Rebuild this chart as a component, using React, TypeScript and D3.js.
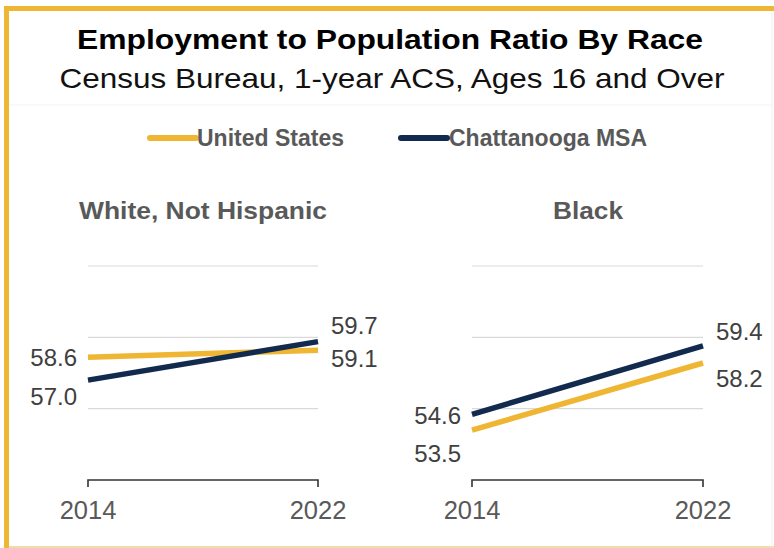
import React from "react";
import * as d3 from "d3";

const years = ["2014", "2022"];
const seriesNames = ["United States", "Chattanooga MSA"];
const panelTitles = ["White, Not Hispanic", "Black"];
const whiteUS = [58.6, 59.1];
const whiteMSA = [57.0, 59.7];
const blackUS = [53.5, 58.2];
const blackMSA = [54.6, 59.4];
const gridValues = [55, 60, 65];

const GOLD = "#EFB633";
const NAVY = "#112A4E";
const FONT = "'Liberation Sans', Arial, sans-serif";

// layout only: label offsets (px) relative to data point for [US, MSA] at [start, end]
const labelOffsets = [
  { us: [0, 8], msa: [16, -16] },
  { us: [24, 16], msa: [1, -14] },
];

export default function App() {
  const W = 774;
  const H = 548;
  const y = d3.scaleLinear().domain([50, 65]).range([480, 266]);
  const panels = [
    { title: panelTitles[0], us: whiteUS, msa: whiteMSA, x0: 88, x1: 318, titleX: 203, titleLen: 248 },
    { title: panelTitles[1], us: blackUS, msa: blackMSA, x0: 472, x1: 703, titleX: 588, titleLen: 70 },
  ];
  const fmt = d3.format(".1f");

  return (
    <svg width={W} height={H} style={{ position: "absolute", left: 0, top: 0, background: "#fff" }}>
      {/* frame */}
      <rect x={0} y={0} width={W} height={H} fill="#fff" />
      <line x1={9} x2={W} y1={547} y2={547} stroke="#EAD08F" strokeWidth={1.5} />
      <line x1={772} x2={772} y1={11} y2={547} stroke="#EEEEEE" strokeWidth={1} />
      <rect x={4} y={6} width={W - 4} height={5} fill={GOLD} />
      <rect x={4} y={6} width={5} height={H - 6} fill={GOLD} />
      <line x1={9} x2={772} y1={105} y2={105} stroke="#F3F3F3" strokeWidth={1} />

      {/* titles */}
      <text x={390} y={49} textAnchor="middle" fontFamily={FONT} fontWeight="bold" fontSize={27}
        fill="#000" textLength={626} lengthAdjust="spacingAndGlyphs">
        Employment to Population Ratio By Race
      </text>
      <text x={392} y={88} textAnchor="middle" fontFamily={FONT} fontSize={27.5}
        fill="#111" textLength={665} lengthAdjust="spacingAndGlyphs">
        Census Bureau, 1-year ACS, Ages 16 and Over
      </text>

      {/* legend */}
      {[
        { c: GOLD, lx: 150, tx: 197, name: seriesNames[0] },
        { c: NAVY, lx: 401, tx: 449, name: seriesNames[1] },
      ].map((l, i) => (
        <g key={i}>
          <line x1={l.lx} x2={l.lx + 46} y1={138} y2={138} stroke={l.c} strokeWidth={6} strokeLinecap="round" />
          <text x={l.tx} y={146} fontFamily={FONT} fontWeight="bold" fontSize={23} fill="#595959">
            {l.name}
          </text>
        </g>
      ))}

      {panels.map((p, pi) => {
        const x = d3.scalePoint<string>().domain(years).range([p.x0, p.x1]);
        const line = d3
          .line<number>()
          .x((_, i) => x(years[i]) as number)
          .y((d) => y(d));
        const off = labelOffsets[pi];
        return (
          <g key={pi}>
            <text x={p.titleX} y={219} textAnchor="middle" fontFamily={FONT} fontWeight="bold" fontSize={24}
              fill="#595959" textLength={p.titleLen} lengthAdjust="spacingAndGlyphs">
              {p.title}
            </text>
            {gridValues.map((g) => (
              <line key={g} x1={p.x0} x2={p.x1} y1={y(g)} y2={y(g)} stroke="#D9D9D9" strokeWidth={1.2} />
            ))}
            {/* axis bracket */}
            <path
              d={`M${p.x0},${y(50) + 7}V${y(50)}H${p.x1}V${y(50) + 7}`}
              fill="none"
              stroke="#333"
              strokeWidth={1.6}
            />
            {years.map((yr) => (
              <text key={yr} x={x(yr)} y={519} textAnchor="middle" fontFamily={FONT} fontSize={25.5} fill="#595959">
                {yr}
              </text>
            ))}
            <path d={line(p.us) || ""} fill="none" stroke={GOLD} strokeWidth={5.5} />
            <path d={line(p.msa) || ""} fill="none" stroke={NAVY} strokeWidth={5.5} />
            {[
              { vals: p.us, o: off.us },
              { vals: p.msa, o: off.msa },
            ].map((s, si) => (
              <g key={si}>
                <text x={p.x0 - 11} y={y(s.vals[0]) + s.o[0]} dy="0.35em" textAnchor="end" fontFamily={FONT}
                  fontSize={24} fill="#404040">
                  {fmt(s.vals[0])}
                </text>
                <text x={p.x1 + 13} y={y(s.vals[1]) + s.o[1]} dy="0.35em" textAnchor="start" fontFamily={FONT}
                  fontSize={24} fill="#404040">
                  {fmt(s.vals[1])}
                </text>
              </g>
            ))}
          </g>
        );
      })}
    </svg>
  );
}
